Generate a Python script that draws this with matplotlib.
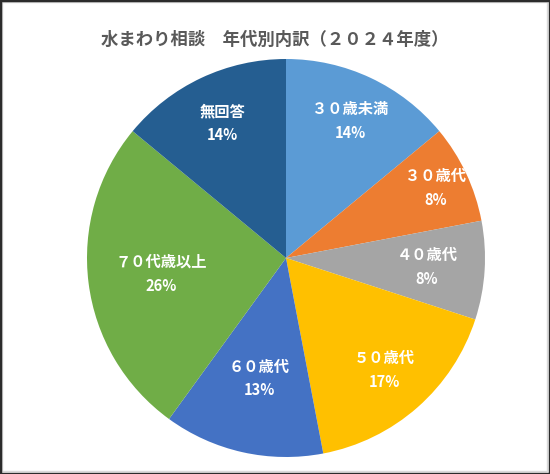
import numpy as np
import matplotlib.pyplot as plt
from matplotlib.patches import Rectangle

plt.rcParams['font.family'] = ['Noto Sans CJK JP', 'DejaVu Sans']

# data
categories = ['３０歳未満', '３０歳代', '４０歳代', '５０歳代', '６０歳代', '７０代歳以上', '無回答']
shares = [14, 8, 8, 17, 13, 26, 14]
title = '水まわり相談　年代別内訳（２０２４年度）'

colors = ['#5B9BD5', '#ED7D31', '#A5A5A5', '#FFC000', '#4472C4', '#70AD47', '#255E91']
label_r = [0.76, 0.83, 0.71, 0.75, 0.62, 0.63, 0.75]  # where each label sits, fraction of radius

fig = plt.figure(figsize=(5.5, 4.74), dpi=100)

# pie centred at (286, 258) px from top-left, radius ~199 px
ax = fig.add_axes([87 / 550, 17 / 474, 398 / 550, 398 / 474])
wedges, _ = ax.pie(shares, colors=colors, startangle=90, counterclock=False,
                   radius=1.0, wedgeprops=dict(linewidth=0))
ax.set_xlim(-1, 1)
ax.set_ylim(-1, 1)
ax.axis('off')

total = sum(shares)
for w, name, v, r in zip(wedges, categories, shares, label_r):
    mid = np.deg2rad((w.theta1 + w.theta2) / 2)
    x, y = r * np.cos(mid), r * np.sin(mid)
    ax.text(x, y + 0.06, name, ha='center', va='center', color='white',
            fontsize=11, fontweight='bold')
    ax.text(x, y - 0.06, f'{round(v / total * 100)}%', ha='center', va='center',
            color='white', fontsize=10.5, fontweight='bold')

fig.text(0.5, 1 - 40 / 474, title, ha='center', va='center', color='#595959',
         fontsize=12.5, fontweight='bold')

# chart frame
fig.patches.append(Rectangle((0.004, 0.006), 0.99, 0.99, transform=fig.transFigure,
                             fill=False, edgecolor='#D9D9D9', linewidth=1))
fig.patches.append(Rectangle((0, 0), 1, 1, transform=fig.transFigure,
                             fill=False, edgecolor='#2b2b2b', linewidth=2.5))

fig.savefig('out.png', dpi=100)
